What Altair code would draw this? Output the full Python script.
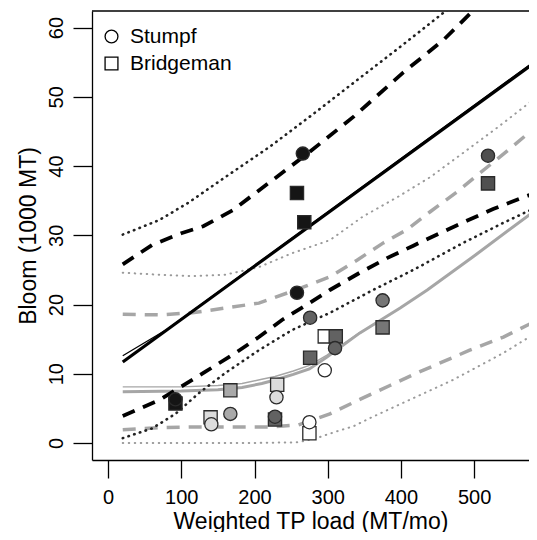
import altair as alt
import pandas as pd

# ---------------- data ----------------
stumpf_x = [92, 141, 167, 230, 228, 275, 276, 296, 310, 375, 258, 266, 519]
stumpf_y = [6.3, 2.7, 4.2, 6.6, 3.8, 3.0, 18.1, 10.5, 13.7, 20.6, 21.7, 41.8, 41.5]
bridge_x = [92, 140, 167, 231, 228, 275, 276, 296, 311, 375, 258, 268, 519]
bridge_y = [5.7, 3.7, 7.6, 8.4, 3.4, 1.4, 12.3, 15.4, 15.4, 16.7, 36.1, 31.9, 37.5]
pair_group = ["k", "l", "m", "l", "d", "w", "d", "w", "d", "d2", "k", "k", "d3"]
group_domain = ["k", "d3", "d", "d2", "m", "l", "w"]
group_range = ["#151515", "#505050", "#626262", "#767676", "#a9a9a9", "#dcdcdc", "#ffffff"]

blk_solid_x = [20, 586]
blk_solid_y = [11.7, 55.2]
blk_solid2_x = [20, 80, 586]
blk_solid2_y = [12.6, 16.4, 55.4]

blk_dash_up_x = [20, 60, 100, 130, 170, 220, 270, 335, 403, 458, 500, 586]
blk_dash_up_y = [25.8, 28.6, 30.3, 31.3, 33.6, 37.6, 41.6, 47.1, 53.5, 58.2, 62.6, 70.0]
blk_dash_lo_x = [20, 70, 133, 174, 206, 238, 275, 303, 344, 381, 417, 453, 490, 526, 565, 586]
blk_dash_lo_y = [3.9, 6.2, 10.3, 13.0, 15.3, 17.8, 20.2, 22.1, 24.6, 26.7, 28.5, 30.3, 32.1, 33.8, 35.4, 36.2]

blk_dot_up_x = [20, 70, 111, 160, 221, 280, 335, 400, 460, 520]
blk_dot_up_y = [30.1, 32.2, 34.8, 38.4, 42.8, 47.5, 52.0, 57.3, 62.3, 67.3]
blk_dot_lo_x = [20, 60, 92, 124, 160, 206, 251, 303, 362, 417, 485, 540, 586]
blk_dot_lo_y = [0.7, 2.1, 4.2, 7.2, 10.1, 13.4, 16.3, 18.8, 22.1, 25.0, 28.9, 31.8, 34.1]

gry_solid_x = [20, 100, 150, 183, 210, 228, 253, 275, 299, 344, 399, 436, 500, 586]
gry_solid_y = [7.4, 7.5, 7.7, 8.0, 8.6, 9.1, 9.9, 10.7, 12.4, 15.9, 19.5, 22.1, 27.0, 33.8]
gry_solid2_x = [20, 100, 150, 183, 210, 228, 253, 275, 299, 344]
gry_solid2_y = [8.1, 8.1, 8.3, 8.6, 9.2, 9.6, 10.4, 11.2, 12.7, 16.0]

gry_dash_up_x = [20, 70, 115, 160, 206, 251, 303, 340, 376, 408, 440, 477, 508, 542, 586]
gry_dash_up_y = [18.6, 18.5, 18.8, 19.5, 20.2, 21.9, 24.0, 26.4, 28.9, 30.8, 33.4, 36.3, 39.0, 41.9, 45.8]
gry_dash_lo_x = [20, 70, 115, 170, 220, 260, 303, 344, 385, 426, 494, 540, 586]
gry_dash_lo_y = [1.9, 2.2, 2.3, 2.3, 2.3, 2.6, 4.2, 6.3, 8.3, 10.3, 13.4, 15.3, 17.7]

gry_dot_up_x = [20, 70, 115, 160, 206, 251, 303, 348, 395, 440, 485, 531, 586]
gry_dot_up_y = [24.6, 24.3, 24.1, 24.3, 25.4, 27.4, 29.3, 32.7, 35.5, 38.4, 41.9, 45.5, 50.0]
gry_dot_lo_x = [20, 100, 200, 260, 285, 310, 335, 358, 403, 471, 540, 586]
gry_dot_lo_y = [0, 0, 0, 0.1, 0.7, 1.6, 2.4, 3.6, 5.8, 9.1, 13.0, 16.0]

x_ticks = [0, 100, 200, 300, 400, 500]
y_ticks = [0, 10, 20, 30, 40, 50, 60]

FONT = "Liberation Sans"
W, H = 437, 449
xscale = alt.Scale(domain=[-22, 575], nice=False, zero=False)
yscale = alt.Scale(domain=[-2.46, 62.4], nice=False, zero=False)

xaxis = alt.Axis(values=x_ticks, title="Weighted TP load (MT/mo)", grid=False,
                 labelFontSize=20, labelFont=FONT, labelBaseline="alphabetic",
                 labelPadding=25, titleFontSize=23, titleFont=FONT,
                 titleFontWeight="normal", titleBaseline="alphabetic", titleY=68,
                 tickSize=18, tickWidth=1.3, tickColor="black", domainColor="black",
                 domainWidth=1.3, labelColor="black", titleColor="black")
yaxis = alt.Axis(values=y_ticks, title="Bloom (1000 MT)", grid=False,
                 labelFontSize=20, labelFont=FONT, labelAngle=270, labelAlign="center",
                 labelBaseline="alphabetic", labelPadding=11,
                 titleFontSize=23, titleFont=FONT, titleFontWeight="normal",
                 titleBaseline="alphabetic", titleX=-57,
                 tickSize=19, tickWidth=1.3, tickColor="black", domainColor="black",
                 domainWidth=1.3, labelColor="black", titleColor="black")

X = alt.X("x:Q", scale=xscale, axis=xaxis)
Y = alt.Y("y:Q", scale=yscale, axis=yaxis)


def line(xs, ys, color, width, dash=None, cap="butt"):
    df = pd.DataFrame({"x": xs, "y": ys})
    kw = dict(color=color, strokeWidth=width, clip=True, strokeCap=cap)
    if dash:
        kw["strokeDash"] = dash
    return alt.Chart(df).mark_line(**kw).encode(x=X, y=Y)


BLK = "#000000"
GRY = "#a6a6a6"
DASH = [13, 9]
layers = [
    line(gry_dot_lo_x, gry_dot_lo_y, "#9a9a9a", 2.0, [0.5, 5.5], "round"),
    line(gry_dot_up_x, gry_dot_up_y, "#9a9a9a", 2.0, [0.5, 5.5], "round"),
    line(gry_dash_lo_x, gry_dash_lo_y, GRY, 3.5, DASH),
    line(gry_dash_up_x, gry_dash_up_y, GRY, 3.5, DASH),
    line(gry_solid2_x, gry_solid2_y, GRY, 1.4),
    line(gry_solid_x, gry_solid_y, GRY, 3.0),
    line(blk_dot_lo_x, blk_dot_lo_y, "#222222", 2.6, [0.5, 5.5], "round"),
    line(blk_dot_up_x, blk_dot_up_y, "#222222", 2.6, [0.5, 5.5], "round"),
    line(blk_dash_lo_x, blk_dash_lo_y, BLK, 3.8, DASH),
    line(blk_dash_up_x, blk_dash_up_y, BLK, 3.8, DASH),
    line(blk_solid2_x, blk_solid2_y, BLK, 1.3),
    line(blk_solid_x, blk_solid_y, BLK, 3.2),
]

pts = pd.DataFrame({
    "x": bridge_x + stumpf_x,
    "y": bridge_y + stumpf_y,
    "source": ["Bridgeman"] * len(bridge_x) + ["Stumpf"] * len(stumpf_x),
    "group": pair_group + pair_group,
})
points = alt.Chart(pts).mark_point(filled=True, size=175, stroke="#2a2a2a",
                                   strokeWidth=1.3, opacity=1).encode(
    x=X, y=Y,
    shape=alt.Shape("source:N",
                    scale=alt.Scale(domain=["Stumpf", "Bridgeman"], range=["circle", "square"]),
                    legend=alt.Legend(title=None, orient="none", legendX=9, legendY=15,
                                      labelFontSize=21, labelFont=FONT, labelColor="black",
                                      symbolSize=165, symbolFillColor="white",
                                      symbolStrokeColor="black", symbolStrokeWidth=1.3,
                                      labelOffset=8, rowPadding=5, padding=0,
                                      symbolOpacity=1)),
    fill=alt.Fill("group:N", scale=alt.Scale(domain=group_domain, range=group_range),
                  legend=None),
)

top_border = alt.Chart(pd.DataFrame({"a": [0]})).mark_rule(color="black", strokeWidth=1.3).encode(
    x=alt.value(0), x2=alt.value(W), y=alt.value(0)
)

chart = alt.layer(*layers, points, top_border).properties(
    width=W, height=H,
    autosize=alt.AutoSizeParams(type="none"),
    padding={"left": 84, "top": 3, "right": 0, "bottom": 72},
).configure_view(stroke=None)

chart.save("out.html", embed_options={"renderer": "svg", "actions": False})
